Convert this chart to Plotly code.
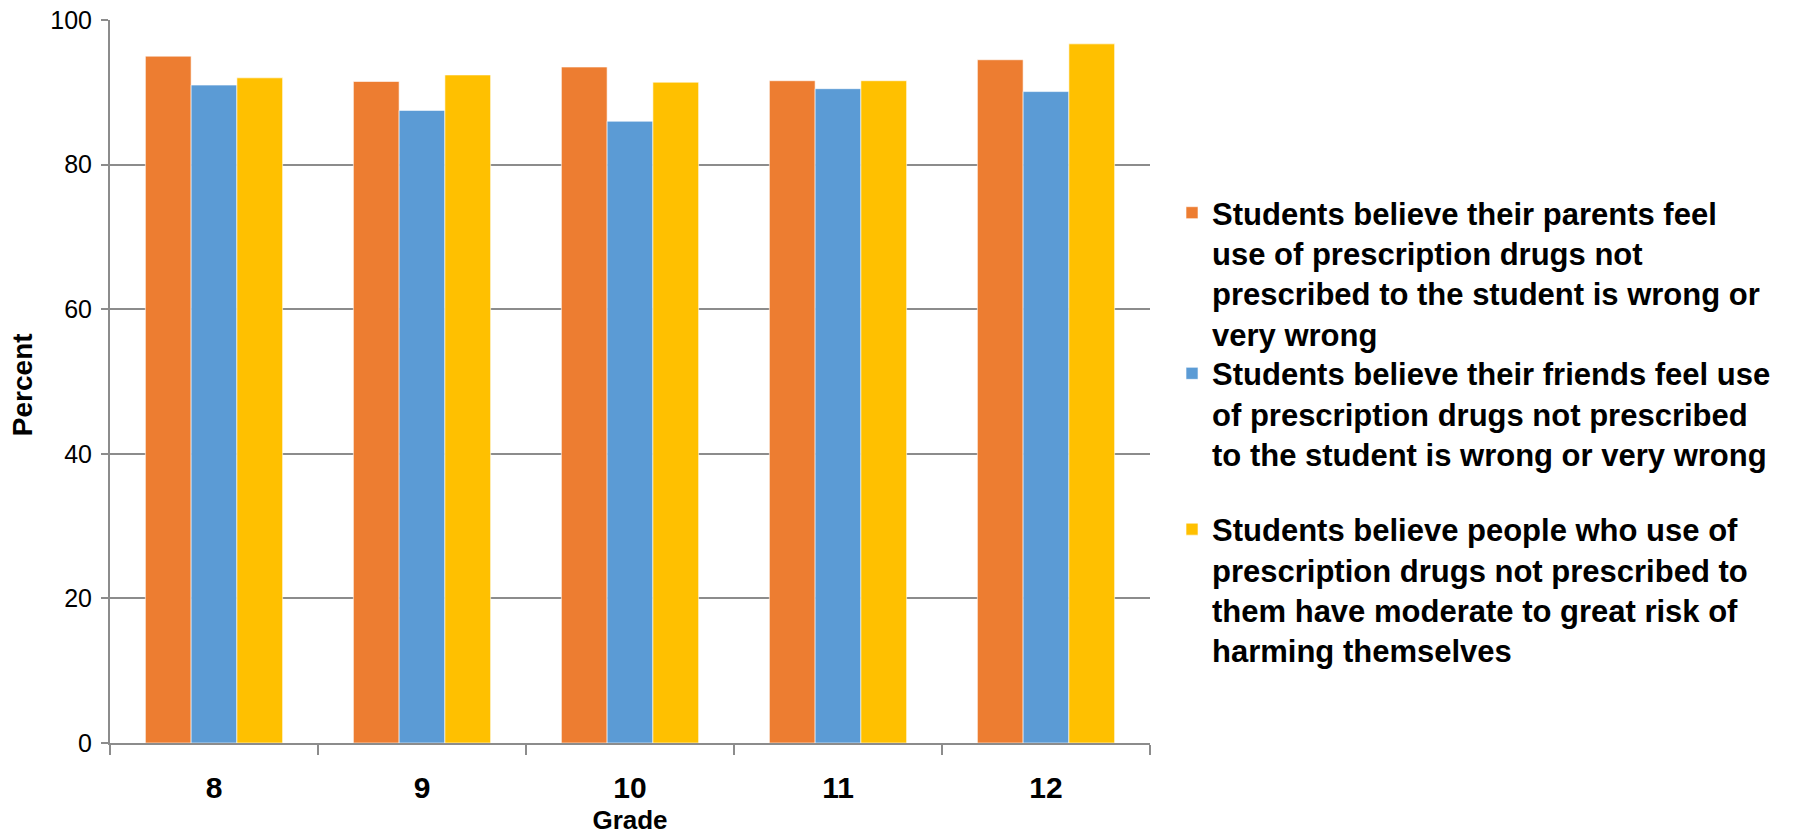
import plotly.graph_objects as go

grades = ["8", "9", "10", "11", "12"]
parents_wrong = [95.0, 91.5, 93.5, 91.6, 94.5]
friends_wrong = [91.0, 87.5, 86.0, 90.5, 90.1]
risk_harm = [92.0, 92.4, 91.4, 91.6, 96.7]

series_names = [
    "Students believe their parents feel<br>use of prescription drugs not<br>prescribed to the student is wrong or<br>very wrong",
    "Students believe their friends feel use<br>of prescription drugs not prescribed<br>to the student is wrong or very wrong",
    "Students believe people who use of<br>prescription drugs not prescribed to<br>them have moderate to great risk of<br>harming themselves",
]
series_values = [parents_wrong, friends_wrong, risk_harm]
series_colors = ["#ED7D31", "#5B9BD5", "#FFC000"]
legend_ids = ["legend", "legend2", "legend3"]
legend_tops = [0.7772, 0.5848, 0.3982]

fig = go.Figure()
for name, vals, col, lg in zip(series_names, series_values, series_colors, legend_ids):
    fig.add_trace(go.Bar(
        x=grades, y=vals, name=name, legend=lg, showlegend=True,
        marker=dict(color=col, line=dict(color="rgba(255,255,255,0.6)", width=1)),
    ))

legend_font = dict(size=31, family="Liberation Sans, Arial, sans-serif", color="black", weight="bold")
legend_layouts = {}
for lg, top in zip(legend_ids, legend_tops):
    legend_layouts[lg] = dict(
        visible=True,
        x=0.6504, y=top, xref="container", yref="container",
        xanchor="left", yanchor="top", valign="top",
        font=legend_font, itemwidth=30, bgcolor="rgba(0,0,0,0)",
    )

axis_col = "#8C8C8C"
fig.update_layout(
    width=1802, height=835,
    showlegend=True,
    paper_bgcolor="white", plot_bgcolor="white",
    margin=dict(l=110, r=652, t=20, b=92),
    barmode="group", bargap=0.34, bargroupgap=0,
    font=dict(family="Liberation Sans, Arial, sans-serif", color="black"),
    **legend_layouts,
    xaxis=dict(
        type="category", automargin=False,
        showline=True, linecolor=axis_col, linewidth=2,
        ticks="outside", tickson="boundaries", ticklen=10, tickcolor=axis_col, tickwidth=2,
        tickfont=dict(size=30, weight="bold"),
        ticklabelstandoff=17,
        showgrid=False,
        title=dict(text="<b>Grade</b>", font=dict(size=26), standoff=15),
    ),
    yaxis=dict(
        range=[0, 100], dtick=20, automargin=False,
        showline=True, linecolor=axis_col, linewidth=2,
        ticks="outside", ticklen=7, tickcolor=axis_col, tickwidth=2,
        showgrid=True, gridcolor=axis_col, gridwidth=2,
        zeroline=False,
        tickfont=dict(size=25),
        ticklabelstandoff=4,
        ticklabeloverflow="allow",
    ),
    annotations=[dict(
        text="<b>Percent</b>", textangle=-90,
        xref="paper", yref="paper", x=-0.0846, y=0.495,
        xanchor="center", yanchor="middle", showarrow=False,
        font=dict(size=28, color="black"),
    )],
)

fig.write_html(
    "out.html",
    config={"displayModeBar": False},
    post_script="document.body.style.margin='0';document.body.style.overflow='hidden';",
)
